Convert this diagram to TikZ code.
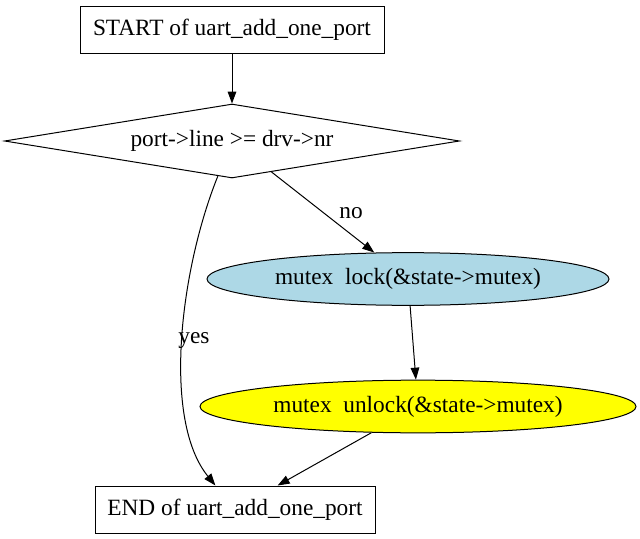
\documentclass[tikz,border=0pt]{standalone}
\usepackage{fontspec}
\setmainfont{Liberation Serif}
\usetikzlibrary{shapes.geometric,arrows.meta}
\definecolor{lockblue}{HTML}{ADD8E6}
\definecolor{unlockyellow}{HTML}{FFFF00}
\tikzset{
  flow/.style={-{Triangle[length=9pt,width=6.5pt]},line width=0.75pt},
  termbox/.style={draw,line width=0.75pt,rectangle,minimum height=35.25pt,inner sep=0pt},
  condbox/.style={draw,line width=0.75pt,diamond,aspect=6.15,minimum width=341.25pt,minimum height=55.5pt,inner sep=0pt},
  callbox/.style={draw,line width=0.75pt,ellipse,minimum height=39.5pt,inner sep=0pt},
}
\begin{document}
\begin{tikzpicture}[x=0.75pt,y=-0.75pt,font=\fontsize{17.5}{21}\selectfont]
			\useasboundingbox (0,0) rectangle (640,539);
			\node[termbox,minimum width=228pt] (start) at (232,29.5) {START of uart\_add\_one\_port};
			\node[condbox] (cond) at (232,141) {port->line >= drv->nr};
			\node[callbox,fill=lockblue,minimum width=301.5pt] (lock) at (408,279) {mutex\ \ lock(\&state->mutex)};
			\node[callbox,fill=unlockyellow,minimum width=327pt] (unlock) at (418,406.5) {mutex\ \ unlock(\&state->mutex)};
			\node[termbox,minimum width=210pt] (end) at (235,509.5) {END of uart\_add\_one\_port};
			\node (no) at (351,213) {no};
			\node (yes) at (194,341) {yes};
			\draw[flow] (start) to (cond);
			\draw[flow] (cond) to (lock);
			\draw[flow] (cond) .. controls (180,270) and (162,420) .. (end);
			\draw[flow] (lock) to (unlock);
			\draw[flow] (unlock) to (end);
			\end{tikzpicture}
\end{document}
